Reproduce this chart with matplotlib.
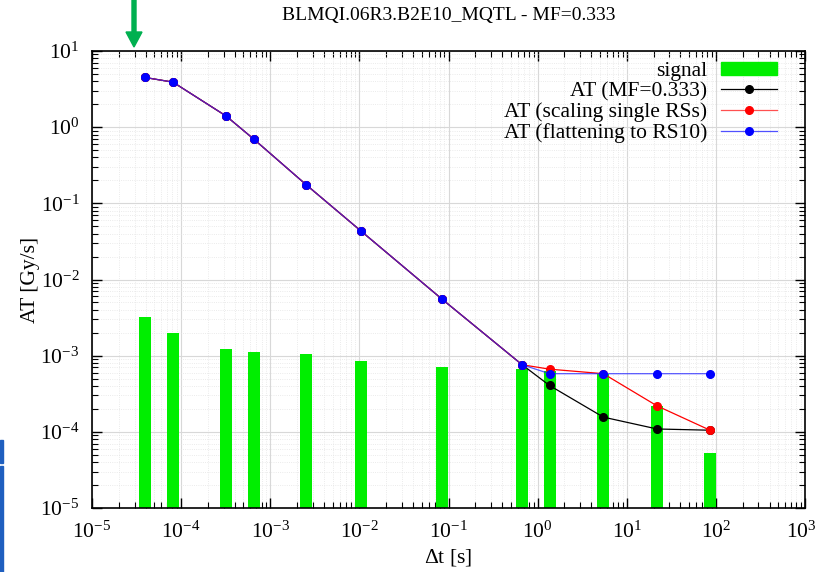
import matplotlib
matplotlib.use("Agg")
import matplotlib.pyplot as plt
from matplotlib.patches import Rectangle, FancyArrow
from matplotlib.lines import Line2D
from matplotlib.ticker import FixedLocator, NullFormatter
from matplotlib.transforms import ScaledTranslation
import numpy as np

plt.rcParams['font.family'] = ['Liberation Serif', 'DejaVu Serif']
plt.rcParams['mathtext.fontset'] = 'custom'
plt.rcParams['mathtext.rm'] = 'Liberation Serif'
plt.rcParams['mathtext.it'] = 'Liberation Serif:italic'
plt.rcParams['axes.unicode_minus'] = False

# data
dt = [3.9e-5, 8.1e-5, 3.2e-4, 6.5e-4, 2.55e-3, 1.04e-2, 8.4e-2, 0.67, 1.36, 5.46, 21.9, 86.0]
at_mf = [4.5, 3.9, 1.4, 0.70, 0.174, 0.0434, 5.56e-3, 7.6e-4, 4.06e-4, 1.56e-4, 1.09e-4, 1.05e-4]
at_scaling = [4.5, 3.9, 1.4, 0.70, 0.174, 0.0434, 5.56e-3, 7.6e-4, 6.65e-4, 5.8e-4, 2.19e-4, 1.05e-4]
at_flat = [4.5, 3.9, 1.4, 0.70, 0.174, 0.0434, 5.56e-3, 7.6e-4, 5.8e-4, 5.8e-4, 5.8e-4, 5.8e-4]
signal = [3.23e-3, 1.97e-3, 1.24e-3, 1.11e-3, 1.05e-3, 8.5e-4, 7.1e-4, 6.65e-4, 6.3e-4, 5.7e-4, 2.2e-4, 5.25e-5]

x_exp = [-5, -4, -3, -2, -1, 0, 1, 2, 3]
y_exp = [-5, -4, -3, -2, -1, 0, 1]

title = "BLMQI.06R3.B2E10_MQTL - MF=0.333"

fig = plt.figure(figsize=(8.19, 5.72), dpi=100)
ax = fig.add_axes([92 / 819, 1 - 508 / 572, (805 - 92) / 819, (508 - 51) / 572])
ax.set_xscale('log')
ax.set_yscale('log')

# signal bars, fixed width in log space
half = 10 ** 0.0675
for x, s in zip(dt, signal):
    ax.bar(x / half, s - 1e-5, width=x * half - x / half, bottom=1e-5,
           align='edge', color='#00ee00', zorder=2)

ax.plot(dt, at_mf, '-o', color='black', lw=0.9, ms=5.5, zorder=3)
ax.plot(dt, at_scaling, '-o', color='red', lw=0.9, ms=5.5, zorder=4)
ax.plot(dt, at_flat, '-', color='#2020ff', lw=0.9, alpha=0.75, zorder=5)
ax.plot(dt, at_flat, 'o', color='#0000ff', ms=5.5, zorder=6)

ax.set_xticks([10.0 ** e for e in x_exp], [r"$\mathdefault{10^{%d}}$" % e for e in x_exp])
ax.set_yticks([10.0 ** e for e in y_exp], [r"$\mathdefault{10^{%d}}$" % e for e in y_exp])
ax.xaxis.set_minor_locator(FixedLocator([k * 10.0 ** e for e in x_exp[:-1] for k in range(2, 10)]))
ax.yaxis.set_minor_locator(FixedLocator([k * 10.0 ** e for e in y_exp[:-1] for k in range(2, 10)]))
ax.xaxis.set_minor_formatter(NullFormatter())
ax.yaxis.set_minor_formatter(NullFormatter())
ax.set_xlim(1e-5, 1e3)
ax.set_ylim(1e-5, 1e1)

ax.grid(which='major', color='#d8d8d8', lw=0.8, ls='-', zorder=0)
ax.grid(which='minor', color='#e4e4e4', lw=0.6, ls=':', zorder=0)
ax.set_axisbelow(True)
ax.tick_params(which='both', direction='in', top=True, right=True, labelsize=15.5)
ax.tick_params(axis='x', which='major', pad=10)
ax.tick_params(axis='y', which='major', pad=9)
ax.tick_params(which='major', length=7, width=1)
ax.tick_params(which='minor', length=4, width=0.8)
for sp in ax.spines.values():
    sp.set_linewidth(1.2)

# the last x label sits a little inside the figure edge
last = ax.get_xticklabels()[-1]
last.set_transform(last.get_transform() + ScaledTranslation(-4 / 100, 0, fig.dpi_scale_trans))

ax.set_xlabel(r"$\Delta$t [s]", fontsize=15.5, labelpad=3)
ax.set_ylabel("AT [Gy/s]", fontsize=15.5, labelpad=0)
ax.set_title(title, fontsize=14, pad=22)

handles = [
    Rectangle((0, 0), 1, 1, color='#00ee00'),
    Line2D([], [], color='black', marker='o', lw=0.9, ms=5.5),
    Line2D([], [], color='#ff5050', marker='o', mfc='red', mec='red', lw=0.9, ms=5.5),
    Line2D([], [], color='#5050ff', marker='o', mfc='blue', mec='blue', lw=0.9, ms=5.5),
]
labels = ["signal", "AT (MF=0.333)", "AT (scaling single RSs)", "AT (flattening to RS10)"]
ax.legend(handles, labels, loc='upper right', frameon=False, markerfirst=False,
          fontsize=15.5, handlelength=2.6, handleheight=0.55, labelspacing=0.05,
          borderaxespad=0.3, borderpad=0.2, handletextpad=0.65,
          bbox_to_anchor=(1 - 17 / 713, 1.0))

# green arrow pointing at the plot
fig.patches.append(FancyArrow(
    134 / 819, 1.0, 0, -47 / 572, width=4 / 819, head_width=16 / 819,
    head_length=15 / 572, length_includes_head=True, color='#00b050',
    transform=fig.transFigure, figure=fig))

# blue strip at the left edge
fig.patches.append(Rectangle((0, 0), 3 / 819, (572 - 466) / 572, color='#1f5fbf',
                             transform=fig.transFigure, figure=fig))
fig.patches.append(Rectangle((0, (572 - 463) / 572), 3 / 819, 23 / 572, color='#1f5fbf',
                             transform=fig.transFigure, figure=fig))

fig.savefig("out.png", dpi=100)
